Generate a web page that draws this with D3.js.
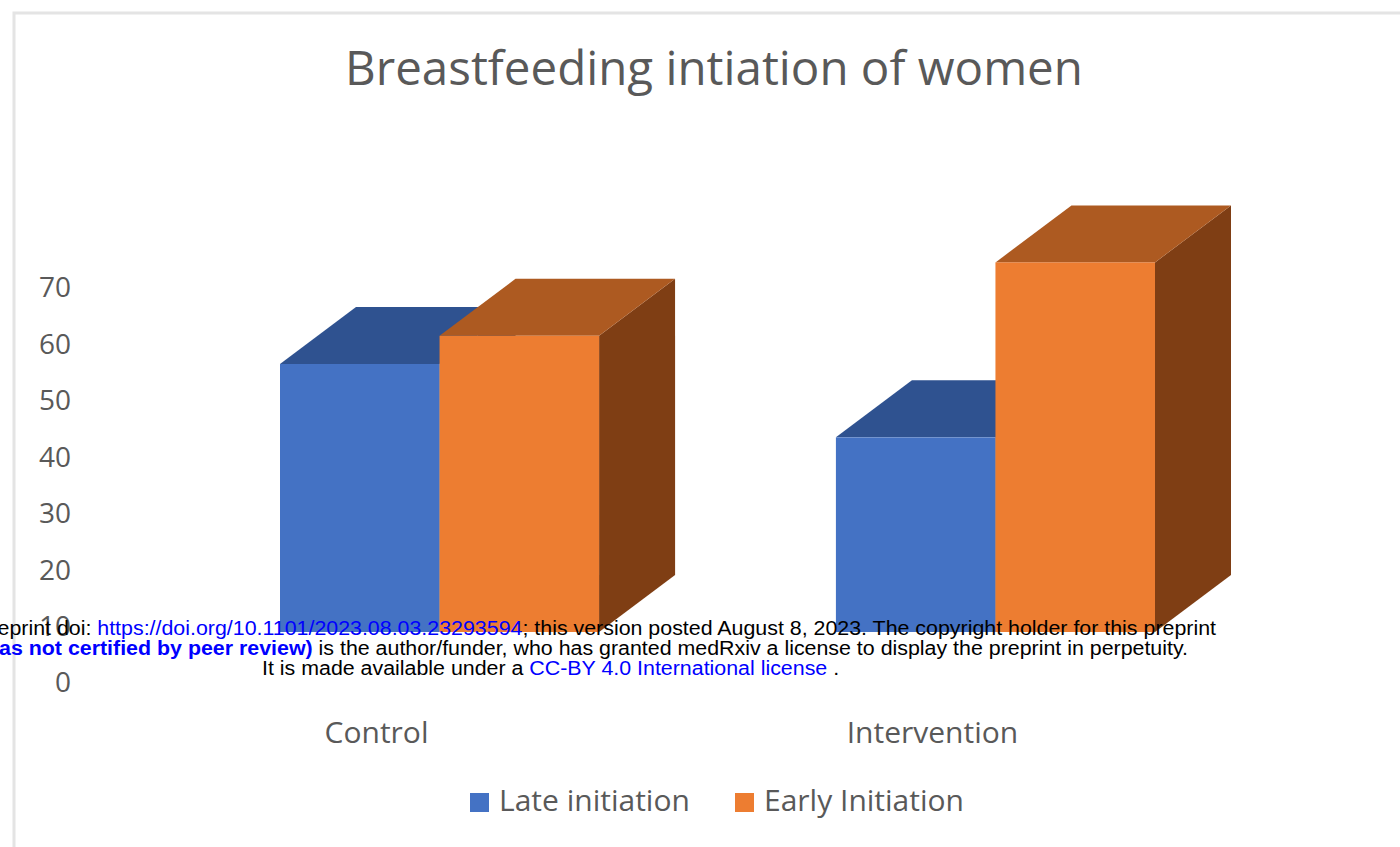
<!DOCTYPE html>
<html>
<head>
<meta charset="utf-8">
<script src="https://cdn.jsdelivr.net/npm/d3@7"></script>
<style>
  body { margin: 0; background: #fff; }
  svg { display: block; }
</style>
</head>
<body>
<div id="chart"></div>
<script>
// data
const categories = ["Control", "Intervention"]
const seriesNames = ["Late initiation", "Early Initiation"]
const lateValues = [56, 43]
const earlyValues = [61, 74]
const yTickValues = [0, 10, 20, 30, 40, 50, 60, 70]

const width = 1400, height = 847
const depthX = 76, depthY = -57   // 3d offset of the bar tops / sides
const frontLift = 3               // front plane sits a touch above the wall axis
const floorY = 632

const colors = [
  { front: "#4472c4", top: "#2f5290", side: "#264478", legend: "#4472c4" },
  { front: "#ed7d31", top: "#ad5a21", side: "#7f3e14", legend: "#ed7d31" }
]

const svg = d3.select("#chart").append("svg")
  .attr("width", width)
  .attr("height", height)

// light frame of the pasted chart
svg.append("path")
  .attr("d", `M14,${height} L14,13 L${width},13`)
  .attr("fill", "none")
  .attr("stroke", "#e4e4e4")
  .attr("stroke-width", 3)

// title
svg.append("text")
  .attr("x", 714)
  .attr("y", 85)
  .attr("text-anchor", "middle")
  .attr("font-family", "'Open Sans', sans-serif")
  .attr("font-size", "47.5px")
  .attr("fill", "#595959")
  .text("Breastfeeding intiation of women")

const y = d3.scaleLinear()
  .domain([0, 70])
  .range([683, 288])

const x = d3.scaleBand()
  .domain(categories)
  .range([280, 1155])
  .paddingInner(0.426)

const x1 = d3.scaleBand()
  .domain(seriesNames)
  .range([0, x.bandwidth()])

// y axis labels only, no line
const yAxis = d3.axisLeft(y)
  .tickValues(yTickValues)
  .tickSize(0)
  .tickPadding(0)
  .tickFormat(d => d)

const yAxisGroup = svg.append("g")
  .attr("transform", "translate(71,0)")
  .call(yAxis)
yAxisGroup.select(".domain").remove()
yAxisGroup.selectAll("text")
  .attr("font-family", "'Open Sans', sans-serif")
  .attr("font-size", "28px")
  .attr("fill", "#595959")

// bars, back to front within each group
const rows = []
categories.forEach((c, i) => {
  rows.push({ cat: c, series: seriesNames[0], value: lateValues[i], col: colors[0] })
  rows.push({ cat: c, series: seriesNames[1], value: earlyValues[i], col: colors[1] })
})

const bars = svg.append("g").attr("class", "bars")
rows.forEach(d => {
  const x0 = x(d.cat) + x1(d.series)
  const x2 = x0 + x1.bandwidth()
  const top = y(d.value) - frontLift
  const g = bars.append("g")
  // side
  g.append("polygon")
    .attr("points", [[x2, top], [x2 + depthX, top + depthY], [x2 + depthX, floorY + depthY], [x2, floorY]].join(" "))
    .attr("fill", d.col.side)
  // top
  g.append("polygon")
    .attr("points", [[x0, top], [x2, top], [x2 + depthX, top + depthY], [x0 + depthX, top + depthY]].join(" "))
    .attr("fill", d.col.top)
  // front
  g.append("rect")
    .attr("x", x0)
    .attr("y", top)
    .attr("width", x1.bandwidth())
    .attr("height", floorY - top)
    .attr("fill", d.col.front)
})

// category labels
svg.append("g").selectAll("text")
  .data(categories)
  .join("text")
    .attr("x", d => x(d) + x.bandwidth() / 2 - 63)
    .attr("y", 743)
    .attr("text-anchor", "middle")
    .attr("font-family", "'Open Sans', sans-serif")
    .attr("font-size", "30px")
    .attr("fill", "#595959")
    .text(d => d)

// legend
const legendX = [470, 735]
const legend = svg.append("g").selectAll("g")
  .data(seriesNames)
  .join("g")
    .attr("transform", (d, i) => `translate(${legendX[i]},793)`)
legend.append("rect")
  .attr("width", 19)
  .attr("height", 19)
  .attr("fill", (d, i) => colors[i].legend)
legend.append("text")
  .attr("x", 29)
  .attr("y", 18)
  .attr("font-family", "'Open Sans', sans-serif")
  .attr("font-size", "30px")
  .attr("fill", "#595959")
  .text(d => d)

// preprint stamp over the figure (slightly wide, so stretched horizontally)
const sx = 1.097
const stamp = svg.append("g")
  .attr("transform", `scale(${sx},1)`)
  .attr("font-family", "'Liberation Sans', Arial, sans-serif")
  .attr("font-size", "19.5px")
  .attr("fill", "#000")

const l1 = stamp.append("text").attr("x", 1216 / sx).attr("y", 635).attr("text-anchor", "end")
l1.append("tspan").text("medRxiv preprint doi: ")
l1.append("tspan").attr("fill", "#0000ff").text("https://doi.org/10.1101/2023.08.03.23293594")
l1.append("tspan").text("; this version posted August 8, 2023. The copyright holder for this preprint")

const l2 = stamp.append("text").attr("x", 1188 / sx).attr("y", 655).attr("text-anchor", "end")
l2.append("tspan").attr("fill", "#0000ff").attr("font-weight", "bold").text("(which was not certified by peer review)")
l2.append("tspan").text(" is the author/funder, who has granted medRxiv a license to display the preprint in perpetuity.")

const l3 = stamp.append("text").attr("x", 262 / sx).attr("y", 675)
l3.append("tspan").text("It is made available under a ")
l3.append("tspan").attr("fill", "#0000ff").text("CC-BY 4.0 International license")
l3.append("tspan").text(" .")
</script>
</body>
</html>
